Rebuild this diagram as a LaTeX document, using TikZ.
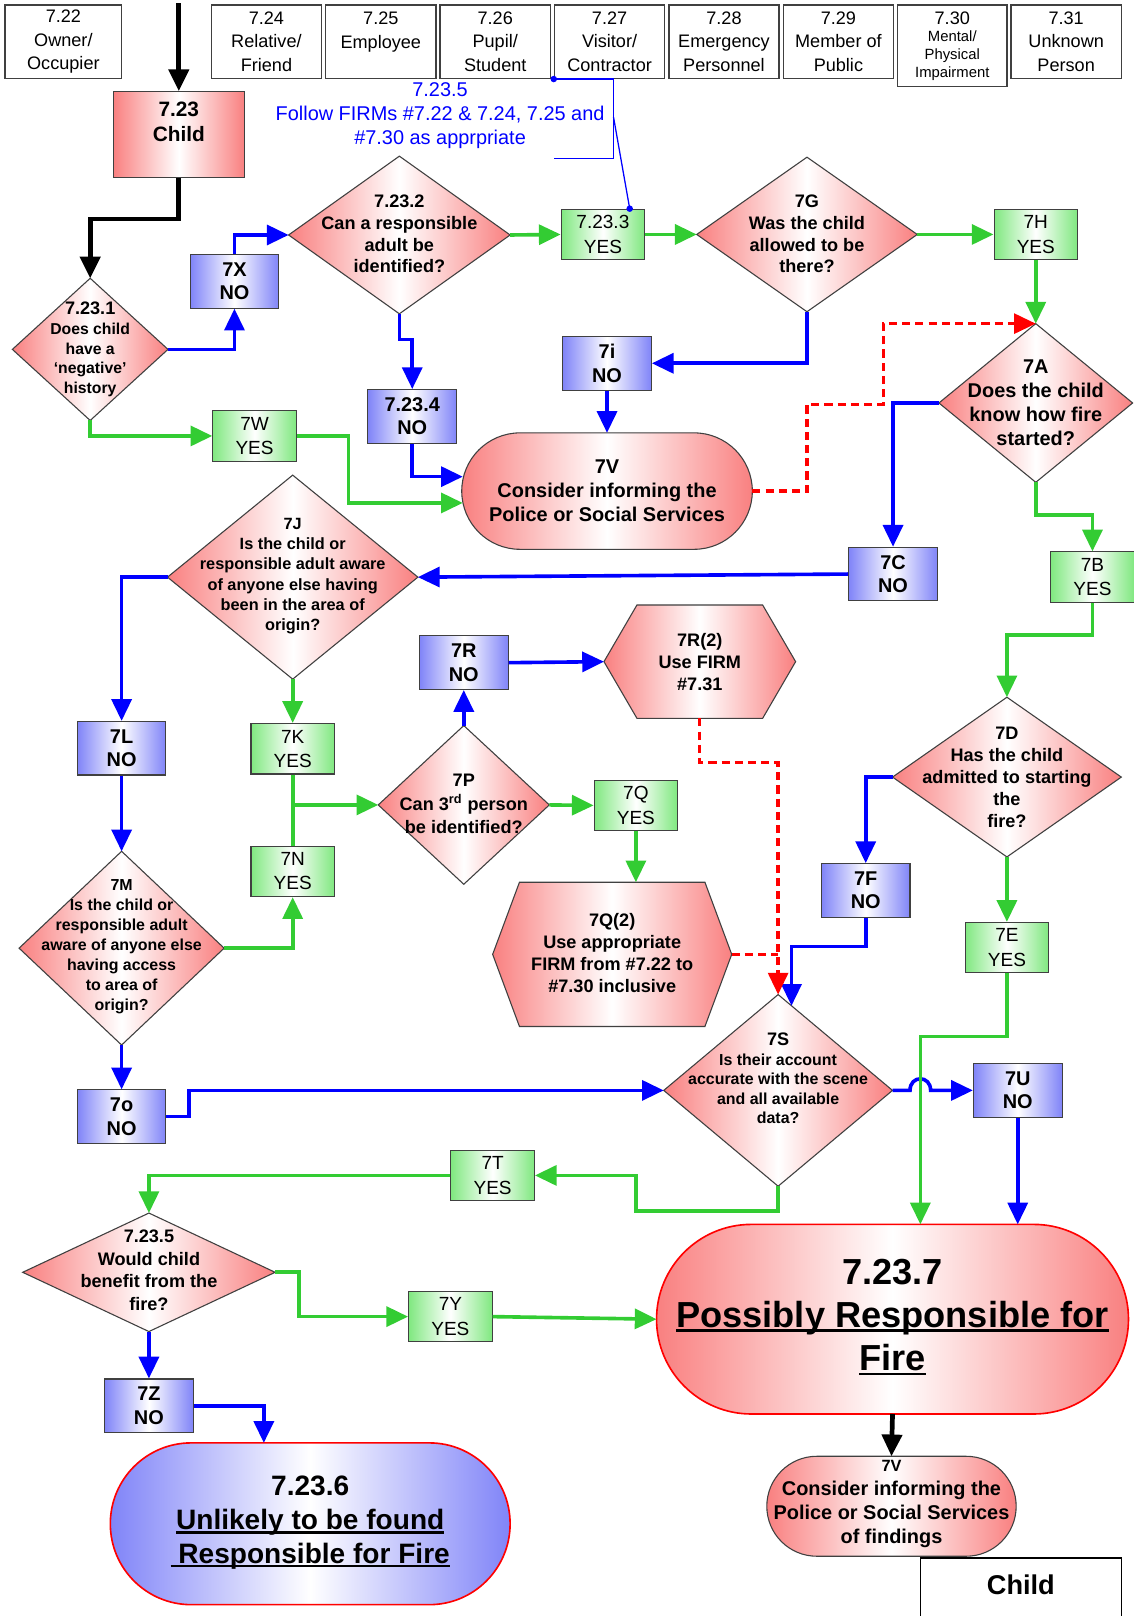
\documentclass[tikz,border=0pt]{standalone}
\usepackage{fontspec}
\setmainfont{Liberation Sans}
\usetikzlibrary{arrows.meta,shapes.geometric,shapes.misc,calc}

\definecolor{redge}{RGB}{249,128,128}
\definecolor{bedge}{RGB}{128,132,248}
\definecolor{gedge}{RGB}{128,232,128}
\definecolor{fgreen}{RGB}{51,204,51}
\definecolor{fblue}{RGB}{0,0,255}
\definecolor{fred}{RGB}{255,0,0}
\definecolor{rim}{RGB}{64,64,64}

\newcommand\fsz[2]{\fontsize{#1}{#2}\selectfont}
\newcommand\ulin[1]{\setbox0\hbox{#1}\rlap{\rule[-0.14em]{\wd0}{0.08em}}\box0}
\def\hexagon#1#2{(#1.west) -- ($(#1.north west)+(#2,0)$) -- ($(#1.north east)-(#2,0)$) -- (#1.east) -- ($(#1.south east)-(#2,0)$) -- ($(#1.south west)+(#2,0)$) -- cycle}

\tikzset{
  flow/.style={line width=2pt, -{Triangle[length=12pt,width=11pt]}},
  bflow/.style={flow, fblue},
  gflow/.style={flow, fgreen},
  rflow/.style={flow, fred, line width=1.8pt, dash pattern=on 4.5pt off 2.8pt},
  kflow/.style={flow, black, line width=2.6pt},
  redfill/.style={draw=rim, line width=0.6pt, left color=redge, right color=redge, middle color=white},
  bluefill/.style={draw=rim, line width=0.6pt, left color=bedge, right color=bedge, middle color=white},
  greenfill/.style={draw=rim, line width=0.6pt, left color=gedge, right color=gedge, middle color=white},
  keybox/.style={draw=rim, line width=0.8pt, fill=white, minimum width=2.14cm, minimum height=1.42cm,
    align=center, inner sep=1pt, font=\fsz{10}{13}},
  yesbox/.style={greenfill, minimum width=1.62cm, minimum height=0.98cm, align=center, inner sep=0pt,
    font=\fsz{10.5}{13.4}},
  nobox/.style={bluefill, minimum width=1.72cm, minimum height=1.04cm, align=center, inner sep=0pt,
    font=\bfseries\fsz{11}{13}},
  dia/.style={diamond, redfill, inner sep=0pt, outer sep=0pt},
  term/.style={rounded rectangle, inner sep=0pt, outer sep=0pt},
  hexa/.style={rectangle, inner sep=0pt, outer sep=0pt},
  qtext/.style={align=center, inner sep=0pt, font=\bfseries\fsz{10}{12}}
}

\begin{document}
\begin{tikzpicture}[x=0.02cm, y=-0.02cm]
  \useasboundingbox (0,0) rectangle (1100,1568);

  % persons row
  \node[keybox, minimum width=2.26cm] (t22) at (61.5,40.5) {7.22\\Owner/\\Occupier};
  \foreach \nm/\x/\lab in {t24/258.5/{7.24\\Relative/\\Friend}, t25/369.5/{7.25\\Employee\\\mbox{}},
      t26/480.5/{7.26\\Pupil/\\Student}, t27/591.5/{7.27\\Visitor/\\Contractor},
      t28/702.5/{7.28\\Emergency\\Personnel}, t29/813.5/{7.29\\Member of\\Public},
      t31/1034.5/{7.31\\Unknown\\Person}}
    \node[keybox] (\nm) at (\x,40.5) {\lab};
  \node[keybox, minimum width=2.12cm, minimum height=1.58cm, font=\fsz{8.2}{9.8}] (t30) at (924,44.5)
    {{\fsz{10}{12}7.30}\\Mental/\\Physical\\Impairment};

  \node[redfill, minimum width=2.54cm, minimum height=1.66cm] (child) at (173.5,130.5) {};
  \node[qtext, font=\bfseries\fsz{11.5}{13.6}] (childt) at (173.5,118) {7.23\\Child};

  % decisions
  \foreach \nm/\x/\y/\w/\h in {d1/87.5/339/3.02/2.76, d2/387.5/228/4.30/3.06, g7/783/227.5/4.28/3.00,
      a7/1005/391/3.76/3.08, j7/284/560/4.86/3.96, m7/118/920/3.98/3.76, p7/450/781/3.32/3.08,
      d7/977/754/4.44/3.10, s7/755/1058/4.44/3.72, d5/144.5/1234.5/4.90/2.30}
    \node[dia, minimum width=\w cm, minimum height=\h cm] (\nm) at (\x,\y) {};

  % answers
  \foreach \nm/\x/\y/\lab in {t233/585/227.5/7.23.3, h7/1005/227.5/7H, w7/247/423/7W, b7/1060/560/7B,
      k7/284/726.5/7K, n7/284/845.5/7N, q7/617/781.5/7Q, e7/977/919.5/7E, t7/478/1140.5/7T,
      y7/437/1277.5/7Y}
    \node[yesbox] (\nm) at (\x,\y) {\lab\\YES};
  \foreach \nm/\x/\y/\lab in {x7/227.5/273/7X, i7/589/352.5/7i, n234/400/404/7.23.4, c7/866.5/557/7C,
      l7/118/726/7L, r7/450/643/7R, f7/840/864/7F, o7/118/1083.5/7o, u7/987.5/1058/7U,
      z7/144.5/1364/7Z}
    \node[nobox] (\nm) at (\x,\y) {\lab\\NO};

  % FIRM hexagons
  \node[hexa, minimum width=3.72cm, minimum height=2.2cm] (r2) at (679,642) {};
  \path[redfill] \hexagon{r2}{32};
  \node[hexa, minimum width=4.64cm, minimum height=2.8cm] (q2) at (594,926) {};
  \path[redfill] \hexagon{q2}{26};

  % terminators
  \node[term, redfill, minimum width=5.64cm, minimum height=2.26cm] (v7) at (589,476.5) {};
  \node[term, bluefill, draw=fred, line width=0.9pt, minimum width=7.76cm, minimum height=3.14cm] (end6) at (301,1478.5) {};
  \node[term, redfill, draw=fred, line width=0.9pt, minimum width=9.16cm, minimum height=3.68cm] (end7) at (866,1280) {};
  \node[term, redfill, minimum width=4.84cm, minimum height=1.94cm] (v7b) at (865,1461.5) {};

  \node[draw=black, line width=0.8pt, fill=white, minimum width=3.9cm, minimum height=1.3cm] (key) at (990.5,1544) {};
  \node[font=\bfseries\fsz{15}{18}] (keyt) at (990.5,1538) {Child};

  % texts
  \node[qtext, font=\bfseries\fsz{8.7}{10.8}] (d1t) at (87.5,339) {{\fsz{10}{12}7.23.1}\\Does child\\have a\\‘negative’\\history};
  \node[qtext] (d2t) at (387.5,227) {7.23.2\\Can a responsible\\adult be\\identified?};
  \node[qtext] (g7t) at (783,227) {7G\\Was the child\\allowed to be\\there?};
  \node[qtext, font=\bfseries\fsz{11}{13.3}] (a7t) at (1005,390.5) {7A\\Does the child\\know how fire\\started?};
  \node[qtext, font=\bfseries\fsz{9}{11.1}] (j7t) at (284,559) {7J\\Is the child or\\responsible adult aware\\of anyone else having\\been in the area of\\origin?};
  \node[qtext, font=\bfseries\fsz{8.8}{11}] (m7t) at (118,918.5) {7M\\Is the child or\\responsible adult\\aware of anyone else\\having access\\to area of\\origin?};
  \node[qtext, font=\bfseries\fsz{10}{13}] (p7t) at (450,780) {7P\\Can 3\textsuperscript{rd} person\\be identified?};
  \node[qtext, font=\bfseries\fsz{10}{12.2}] (d7t) at (977,754) {7D\\Has the child\\admitted to starting\\the\\fire?};
  \node[qtext, font=\bfseries\fsz{8.8}{10.8}] (s7t) at (755,1046.5) {{\fsz{10}{12}7S}\\Is their account\\accurate with the scene\\and all available\\data?};
  \node[qtext, font=\bfseries\fsz{10}{12.5}] (d5t) at (144.5,1232.5) {7.23.5\\Would child\\benefit from the\\fire?};
  \node[qtext, font=\bfseries\fsz{10}{12.2}] (r2t) at (679,642.5) {7R(2)\\Use FIRM\\\#7.31};
  \node[qtext, font=\bfseries\fsz{10}{12.2}] (q2t) at (594,924.5) {7Q(2)\\Use appropriate\\FIRM from \#7.22 to\\\#7.30 inclusive};
  \node[qtext, font=\bfseries\fsz{11}{13.3}] (v7t) at (589,476.5) {7V\\Consider informing the\\Police or Social Services};
  \node[qtext, font=\bfseries\fsz{11}{13.3}] (v7bt) at (865,1459.5) {{\fsz{9}{11}7V}\\Consider informing the\\Police or Social Services\\of findings};
  \node[qtext, font=\bfseries\fsz{15.5}{18.7}] (end6t) at (301,1477.5) {7.23.6\\\ulin{Unlikely to be found}\\\ulin{\ Responsible for Fire}};
  \node[qtext, font=\bfseries\fsz{20}{23.8}] (end7t) at (866,1278) {7.23.7\\\ulin{Possibly Responsible for}\\\ulin{Fire}};

  % note on 7.23.3
  \node[font=\fsz{11}{13.3}, text=fblue, align=center, inner sep=0pt] (note) at (427,112.5)
    {7.23.5\\Follow FIRMs \#7.22 \& 7.24, 7.25 and\\\#7.30 as apprpriate};
  \draw[fblue, line width=0.7pt] (t27.south west) -- ++(58,0) -- ++(0,77) -- ++(-58,0);
  \draw[fblue, line width=0.7pt] ($(t27.south west)+(58,37)$) -- ($(t233.north)+(26,0)$);
  \fill[fblue] (t27.south west) circle (1.8pt);
  \fill[fblue] ($(t233.north)+(26,0)$) circle (1.8pt);

  % black
  \coordinate (entry) at (173.5,3);
  \draw[kflow] (entry) -- (child.north);
  \draw[kflow] (child.south) -- ++(0,40) -| (d1.north);
  \draw[kflow] (end7.south) -- (v7b.north);

  % blue
  \draw[bflow] (d1.east) -| (x7.south);
  \draw[bflow] (x7.north) |- (d2.west);
  \draw[bflow] (g7.south) |- (i7.east);
  \draw[bflow] (i7.south) -- (v7.north);
  \draw[bflow] (d2.south) -- ++(0,25) -| (n234.north);
  \draw[bflow] (n234.south) |- ($(v7.west)+(1,-14)$);
  \draw[bflow] (a7.west) -| (c7.north);
  \draw[bflow] (c7.west) -- (j7.east);
  \draw[bflow] (j7.west) -| (l7.north);
  \draw[bflow] (l7.south) -- (m7.north);
  \draw[bflow] (m7.south) -- (o7.north);
  \draw[bflow] (o7.east) -- ++(22,0) |- (s7.west);
  \draw[bflow] (p7.north) -- (r7.south);
  \draw[bflow] (r7.east) -- (r2.west);
  \draw[bflow] (d7.west) -| (f7.north);
  \draw[bflow] (f7.south) -- ++(0,28) -| (s7.81);
  \draw[bflow] (s7.east) -- ++(17,0) .. controls +(0,-15) and +(0,-15) .. ++(20,0) -- (u7.west);
  \draw[bflow] (u7.south) -- (u7.south |- end7.north);
  \draw[bflow] (d5.south) -- (z7.north);
  \draw[bflow] (z7.east) -| ($(end6.north)+(-45,0)$);

  % green
  \draw[gflow] (d2.east) -- (t233.west);
  \draw[gflow] (t233.east) -- (g7.west);
  \draw[gflow] (g7.east) -- (h7.west);
  \draw[gflow] (h7.south) -- (a7.north);
  \draw[gflow] (d1.south) |- (w7.west);
  \draw[gflow] (w7.east) -- ++(50,0) |- ($(v7.west)+(1,11.5)$);
  \draw[gflow] (a7.south) -- ++(0,32) -| (b7.north);
  \draw[gflow] (b7.south) -- ++(0,31) -| (d7.north);
  \draw[gflow] (j7.south) -- (k7.north);
  \draw[fgreen, line width=2pt] (k7.south) -- (n7.north);
  \draw[gflow] (k7.south |- p7.west) -- (p7.west);
  \draw[gflow] (m7.east) -| (n7.south);
  \draw[gflow] (p7.east) -- (q7.west);
  \draw[gflow] (q7.south) -- (q7.south |- q2.north);
  \draw[gflow] (d7.south) -- (e7.north);
  \draw[gflow] (e7.south) -- ++(0,61) -| ($(end7.north)+(27,0)$);
  \draw[gflow] (s7.south) -- ++(0,24) -| ($(t7.east)+(98,0)$) -- (t7.east);
  \draw[gflow] (t7.west) -| (d5.north);
  \draw[gflow] (d5.east) -- ++(23,0) |- (y7.west);
  \draw[gflow] (y7.east) -- (end7.west);

  % red dashed
  \draw[rflow] (v7.east) -- ++(53,0) -- ++(0,-84) -- ++(74,0) |- (a7.north);
  \draw[rflow] (r2.south) -- ++(0,43) -| (s7.north);
  \draw[rflow, -] (q2.east) -- (q2.east -| s7.north);
\end{tikzpicture}
\end{document}
